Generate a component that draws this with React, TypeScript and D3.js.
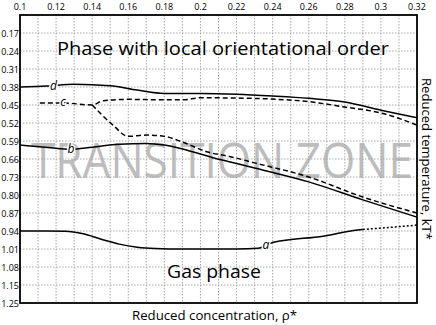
import React, { useEffect, useRef } from 'react'
import * as d3 from 'd3'

// x ticks along the top, y ticks on the left (top row is 0.10, unlabeled)
const xTicks = [0.1, 0.12, 0.14, 0.16, 0.18, 0.2, 0.22, 0.24, 0.26, 0.28, 0.3, 0.32]
const yTickLabels = ['0.17', '0.24', '0.31', '0.38', '0.45', '0.52', '0.59', '0.66', '0.73', '0.80', '0.87', '0.94', '1.01', '1.08', '1.15', '1.25']

// curve d (solid)
const dX = [0.1, 0.115, 0.13, 0.15, 0.165, 0.18, 0.2, 0.22, 0.24, 0.26, 0.28, 0.3, 0.32]
const dY = [0.38, 0.376, 0.369, 0.375, 0.392, 0.405, 0.405, 0.408, 0.415, 0.424, 0.438, 0.47, 0.5]

// curve c, upper dashed branch
const cUpX = [0.111, 0.124, 0.14, 0.146, 0.16, 0.18, 0.19, 0.2, 0.22, 0.24, 0.26, 0.28, 0.3, 0.32]
const cUpY = [0.442, 0.442, 0.45, 0.433, 0.428, 0.43, 0.43, 0.422, 0.423, 0.427, 0.437, 0.458, 0.481, 0.528]

// curve c, lower dashed branch
const cLowX = [0.14, 0.1515, 0.16, 0.17, 0.18, 0.19, 0.204, 0.216, 0.23, 0.26, 0.29, 0.32]
const cLowY = [0.45, 0.528, 0.572, 0.567, 0.572, 0.594, 0.633, 0.65, 0.675, 0.73, 0.808, 0.87]

// curve b (solid)
const bX = [0.1, 0.1155, 0.128, 0.14, 0.155, 0.17, 0.18, 0.19, 0.207, 0.216, 0.23, 0.26, 0.29, 0.32]
const bY = [0.606, 0.615, 0.622, 0.614, 0.603, 0.6, 0.606, 0.621, 0.655, 0.671, 0.695, 0.749, 0.819, 0.886]

// curve a (solid, then dotted tail)
const aX = [0.1, 0.115, 0.125, 0.135, 0.145, 0.155, 0.165, 0.175, 0.19, 0.22, 0.232, 0.24, 0.268, 0.287, 0.29]
const aY = [0.94, 0.94, 0.941, 0.951, 0.972, 0.991, 1.003, 1.008, 1.01, 1.01, 1.007, 0.985, 0.96, 0.936, 0.934]
const aTailX = [0.29, 0.305, 0.32]
const aTailY = [0.934, 0.926, 0.917]

const labels = [
  { t: 'd', x: 0.1185, y: 0.378 },
  { t: 'c', x: 0.1238, y: 0.44 },
  { t: 'b', x: 0.1283, y: 0.62 },
  { t: 'a', x: 0.2363, y: 0.995 },
]

const font = "'Open Sans', 'Noto Sans', sans-serif"

export default function App() {
  const ref = useRef<SVGSVGElement>(null)

  useEffect(() => {
    document.body.style.margin = '0'
    const svg = d3.select(ref.current)
    svg.selectAll('*').remove()

    const left = 20, right = 417, top = 15, bottom = 303
    const x = d3.scaleLinear().domain([0.1, 0.32]).range([left, right])
    const y = d3.scaleLinear().domain([0.1, 1.22]).range([top, bottom])

    svg.append('rect').attr('width', 436).attr('height', 325).attr('fill', '#fff')

    // big watermark text
    svg.append('text')
      .attr('x', 31).attr('y', 178)
      .attr('textLength', 382).attr('lengthAdjust', 'spacingAndGlyphs')
      .attr('font-family', font).attr('font-weight', 400)
      .attr('font-size', 50).attr('fill', '#bdbdbd')
      .text('TRANSITION ZONE')

    // grid
    const g = svg.append('g')
    d3.range(0.11, 0.3151, 0.01).forEach(v => {
      g.append('line').attr('x1', x(v)).attr('x2', x(v)).attr('y1', top).attr('y2', bottom)
        .attr('stroke', '#aaa').attr('stroke-dasharray', '1.5,1.5')
    })
    yTickLabels.forEach((lab, i) => {
      const v = 0.1 + 0.07 * (i + 1)
      if (i < yTickLabels.length - 1) {
        g.append('line').attr('x1', left).attr('x2', right).attr('y1', y(v)).attr('y2', y(v))
          .attr('stroke', '#aaa').attr('stroke-dasharray', '1.5,1.5')
      }
      svg.append('text').attr('x', 19).attr('y', y(v) + 3.5)
        .attr('text-anchor', 'end').attr('font-family', font).attr('font-size', 9)
        .text(lab)
    })
    xTicks.forEach(v => {
      svg.append('text').attr('x', x(v)).attr('y', 10)
        .attr('text-anchor', 'middle').attr('font-family', font).attr('font-size', 9)
        .text(String(v))
    })

    // region titles
    svg.append('text').attr('x', 57).attr('y', 55)
      .attr('textLength', 332).attr('lengthAdjust', 'spacingAndGlyphs')
      .attr('font-family', font).attr('font-size', 19).text('Phase with local orientational order')
    svg.append('text').attr('x', 167).attr('y', 278)
      .attr('textLength', 94).attr('lengthAdjust', 'spacingAndGlyphs')
      .attr('font-family', font).attr('font-size', 19).text('Gas phase')

    // curves
    const line = d3.line<[number, number]>()
      .x(d => x(d[0])).y(d => y(d[1])).curve(d3.curveMonotoneX)
    const draw = (xs: number[], ys: number[], dash: string | null) => {
      svg.append('path')
        .attr('d', line(xs.map((v, i) => [v, ys[i]])))
        .attr('fill', 'none').attr('stroke', '#000').attr('stroke-width', 1.5)
        .attr('stroke-dasharray', dash)
    }
    draw(dX, dY, null)
    draw(cUpX, cUpY, '5,3')
    draw(cLowX, cLowY, '5,3')
    draw(bX, bY, null)
    draw(aX, aY, null)
    draw(aTailX, aTailY, '2,2')

    labels.forEach(l => {
      svg.append('text').attr('x', x(l.x)).attr('y', y(l.y) + 4)
        .attr('text-anchor', 'middle').attr('font-family', font).attr('font-size', 12)
        .attr('font-style', 'italic')
        .attr('stroke', '#fff').attr('stroke-width', 3).attr('paint-order', 'stroke')
        .text(l.t)
    })

    // frame
    svg.append('rect').attr('x', left).attr('y', top)
      .attr('width', right - left).attr('height', bottom - top)
      .attr('fill', 'none').attr('stroke', '#000').attr('stroke-width', 1.8)

    // axis titles
    svg.append('text').attr('x', 132).attr('y', 320)
      .attr('textLength', 165).attr('lengthAdjust', 'spacingAndGlyphs')
      .attr('font-family', font).attr('font-size', 12.5)
      .text('Reduced concentration, ρ*')
    svg.append('text')
      .attr('transform', 'translate(422,78) rotate(90)')
      .attr('textLength', 162).attr('lengthAdjust', 'spacingAndGlyphs')
      .attr('font-family', font).attr('font-size', 12)
      .text('Reduced temperature, kT*')
  }, [])

  return <svg ref={ref} width={436} height={325} style={{ display: 'block' }} />
}
